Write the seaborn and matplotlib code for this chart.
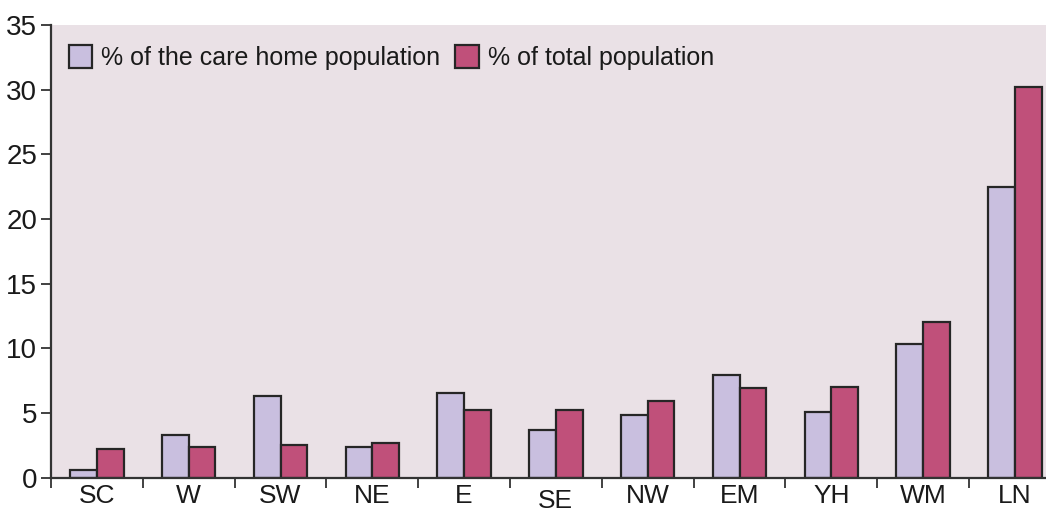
import matplotlib
matplotlib.use("Agg")
import matplotlib.pyplot as plt
from matplotlib.transforms import ScaledTranslation
import numpy as np
import pandas as pd
import seaborn as sns

regions = ["SC", "W", "SW", "NE", "E", "SE", "NW", "EM", "YH", "WM", "LN"]
care_home_pct = [0.6, 3.3, 6.3, 2.35, 6.5, 3.7, 4.8, 7.9, 5.1, 10.35, 22.5]
total_pop_pct = [2.2, 2.35, 2.5, 2.65, 5.2, 5.2, 5.9, 6.9, 7.0, 12.0, 30.2]
series_names = ["% of the care home population", "% of total population"]
y_ticks = [0, 5, 10, 15, 20, 25, 30, 35]

df = pd.DataFrame({
    "region": regions * 2,
    "value": care_home_pct + total_pop_pct,
    "series": [series_names[0]] * len(regions) + [series_names[1]] * len(regions),
})

sns.set_theme(style="white")
plt.rcParams["font.family"] = ["Liberation Sans Narrow", "Liberation Sans", "DejaVu Sans"]

fig = plt.figure(figsize=(10.46, 5.12), dpi=100)
ax = fig.add_axes([51 / 1046, 1 - 477.5 / 512, 11 * 91.8 / 1046, (477.5 - 25) / 512])
ax.set_facecolor("#EAE1E6")

sns.barplot(
    data=df, x="region", y="value", hue="series", order=regions,
    hue_order=series_names, palette=["#C9BFDF", "#C0507A"], saturation=1,
    edgecolor="#262626", linewidth=1.6, width=0.58, ax=ax, errorbar=None,
)

ax.set_xlim(-0.5, len(regions) - 0.5)
ax.set_ylim(0, 35)
ax.set_yticks(y_ticks)
ax.set_xlabel("")
ax.set_ylabel("")

for side in ("top", "right"):
    ax.spines[side].set_visible(False)
for side in ("left", "bottom"):
    ax.spines[side].set_color("#333333")
    ax.spines[side].set_linewidth(1.6)

ax.tick_params(axis="y", direction="out", length=7, width=1.3, color="#333333",
               labelsize=20, labelcolor="#1a1a1a", pad=3, left=True)
ax.tick_params(axis="x", which="major", length=0, labelsize=19,
               labelcolor="#1a1a1a", pad=5)
ax.set_xticks(np.arange(-0.5, len(regions) + 0.5, 1.0), minor=True)
ax.tick_params(axis="x", which="minor", direction="out", length=7, width=1.3,
               color="#333333", bottom=True)

# the SE label sits a little lower than the rest
for lab in ax.get_xticklabels():
    if lab.get_text() == "SE":
        lab.set_transform(lab.get_transform()
                          + ScaledTranslation(0, -3 / 72, fig.dpi_scale_trans))

leg = ax.legend(loc="upper left", bbox_to_anchor=(0.0, 0.995), ncol=2,
                frameon=False, fontsize=18, handlelength=0.95, handleheight=1.05,
                handletextpad=0.35, columnspacing=0.6, borderaxespad=0.3)
for t in leg.get_texts():
    t.set_color("#1a1a1a")

fig.savefig("out.png", dpi=100, facecolor="white")
